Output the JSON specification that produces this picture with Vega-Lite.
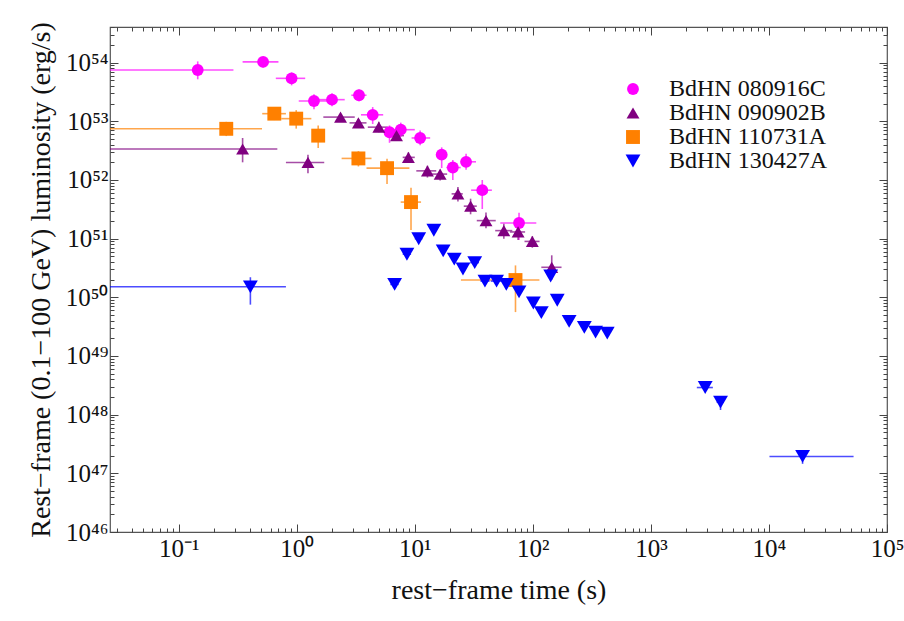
{
  "$schema": "https://vega.github.io/schema/vega-lite/v6.json",
  "width": 777,
  "height": 505,
  "autosize": {"type": "none"},
  "padding": {"left": 110, "top": 27, "right": 17, "bottom": 89},
  "background": "white",
  "config": {
    "view": {"stroke": "#555555", "strokeWidth": 1.2},
    "font": "Liberation Serif",
    "axis": {"labelFont": "Liberation Serif", "titleFont": "Liberation Serif", "labelColor": "#111111", "titleColor": "#111111", "titleFontWeight": "normal", "domain": false, "grid": false, "tickColor": "#444444", "tickWidth": 1},
    "legend": {"labelFont": "Liberation Serif"}
  },
  "resolve": {"legend": {"color": "independent", "shape": "independent", "size": "independent"}},
  "data": {"values": [
    {"s": "BdHN 080916C", "x": 0.145, "xlo": 0.001, "xhi": 0.291, "y": 7.5e53, "ylo": 5.2e53, "yhi": 1.05e54},
    {"s": "BdHN 080916C", "x": 0.519, "xlo": 0.348, "xhi": 0.70, "y": 1.03e54, "ylo": 8.3e53, "yhi": 1.25e54},
    {"s": "BdHN 080916C", "x": 0.905, "xlo": 0.665, "xhi": 1.18, "y": 5.4e53, "ylo": 4.1e53, "yhi": 6.8e53},
    {"s": "BdHN 080916C", "x": 1.40, "xlo": 1.04, "xhi": 1.99, "y": 2.22e53, "ylo": 1.6e53, "yhi": 2.9e53},
    {"s": "BdHN 080916C", "x": 1.99, "xlo": 1.40, "xhi": 2.55, "y": 2.34e53, "ylo": 1.8e53, "yhi": 3.0e53},
    {"s": "BdHN 080916C", "x": 3.37, "xlo": 2.9, "xhi": 3.9, "y": 2.78e53, "ylo": 2.2e53, "yhi": 3.5e53},
    {"s": "BdHN 080916C", "x": 4.40, "xlo": 3.5, "xhi": 5.4, "y": 1.29e53, "ylo": 9.0e52, "yhi": 1.75e53},
    {"s": "BdHN 080916C", "x": 6.11, "xlo": 5.4, "xhi": 7.0, "y": 6.5e52, "ylo": 4.3e52, "yhi": 8.5e52},
    {"s": "BdHN 080916C", "x": 7.61, "xlo": 5.6, "xhi": 10.0, "y": 7.2e52, "ylo": 5.4e52, "yhi": 9.5e52},
    {"s": "BdHN 080916C", "x": 11.1, "xlo": 9.4, "xhi": 13.5, "y": 5.2e52, "ylo": 3.9e52, "yhi": 7.0e52},
    {"s": "BdHN 080916C", "x": 16.9, "xlo": 15.1, "xhi": 18.8, "y": 2.7e52, "ylo": 1.6e52, "yhi": 3.6e52},
    {"s": "BdHN 080916C", "x": 21.0, "xlo": 18.5, "xhi": 24.5, "y": 1.63e52, "ylo": 1.0e52, "yhi": 2.2e52},
    {"s": "BdHN 080916C", "x": 27.2, "xlo": 24.5, "xhi": 33, "y": 2.04e52, "ylo": 1.5e52, "yhi": 2.8e52},
    {"s": "BdHN 080916C", "x": 37.3, "xlo": 30, "xhi": 45, "y": 6.7e51, "ylo": 3.2e51, "yhi": 1.0e52},
    {"s": "BdHN 080916C", "x": 76.4, "xlo": 53, "xhi": 107, "y": 1.85e51, "ylo": 9.5e50, "yhi": 2.75e51},
    {"s": "BdHN 090902B", "x": 0.348, "xlo": 0.001, "xhi": 0.685, "y": 3.37e52, "ylo": 2.0e52, "yhi": 5.2e52},
    {"s": "BdHN 090902B", "x": 1.245, "xlo": 0.81, "xhi": 1.71, "y": 1.99e52, "ylo": 1.3e52, "yhi": 2.7e52},
    {"s": "BdHN 090902B", "x": 2.35, "xlo": 1.68, "xhi": 3.1, "y": 1.18e53, "ylo": 9.8e52, "yhi": 1.35e53},
    {"s": "BdHN 090902B", "x": 3.33, "xlo": 2.8, "xhi": 3.9, "y": 9.4e52, "ylo": 7.8e52, "yhi": 1.1e53},
    {"s": "BdHN 090902B", "x": 4.96, "xlo": 4.0, "xhi": 5.9, "y": 7.95e52, "ylo": 6.5e52, "yhi": 9.8e52},
    {"s": "BdHN 090902B", "x": 7.0, "xlo": 6.1, "xhi": 8.1, "y": 5.7e52, "ylo": 4.7e52, "yhi": 6.8e52},
    {"s": "BdHN 090902B", "x": 8.83, "xlo": 7.9, "xhi": 10.0, "y": 2.43e52, "ylo": 1.95e52, "yhi": 2.95e52},
    {"s": "BdHN 090902B", "x": 12.8, "xlo": 10.3, "xhi": 15.2, "y": 1.43e52, "ylo": 1.1e52, "yhi": 1.75e52},
    {"s": "BdHN 090902B", "x": 16.4, "xlo": 14.0, "xhi": 18.8, "y": 1.26e52, "ylo": 9.8e51, "yhi": 1.5e52},
    {"s": "BdHN 090902B", "x": 23.2, "xlo": 20.5, "xhi": 25.5, "y": 5.8e51, "ylo": 4.3e51, "yhi": 7.6e51},
    {"s": "BdHN 090902B", "x": 29.7, "xlo": 26, "xhi": 33.5, "y": 3.58e51, "ylo": 2.6e51, "yhi": 4.8e51},
    {"s": "BdHN 090902B", "x": 40.1, "xlo": 33.5, "xhi": 48.5, "y": 2.03e51, "ylo": 1.5e51, "yhi": 2.8e51},
    {"s": "BdHN 090902B", "x": 56.8, "xlo": 48, "xhi": 67, "y": 1.37e51, "ylo": 1.0e51, "yhi": 1.8e51},
    {"s": "BdHN 090902B", "x": 75, "xlo": 64, "xhi": 86, "y": 1.3e51, "ylo": 9.5e50, "yhi": 1.7e51},
    {"s": "BdHN 090902B", "x": 99, "xlo": 85, "xhi": 114, "y": 8.97e50, "ylo": 7.0e50, "yhi": 1.1e51},
    {"s": "BdHN 090902B", "x": 144.6, "xlo": 118, "xhi": 175, "y": 3.25e50, "ylo": 2.0e50, "yhi": 5.2e50},
    {"s": "BdHN 110731A", "x": 0.253, "xlo": 0.001, "xhi": 0.508, "y": 7.45e52, "ylo": 5.6e52, "yhi": 9.8e52},
    {"s": "BdHN 110731A", "x": 0.646, "xlo": 0.51, "xhi": 0.81, "y": 1.35e53, "ylo": 1.05e53, "yhi": 1.75e53},
    {"s": "BdHN 110731A", "x": 0.99, "xlo": 0.74, "xhi": 1.33, "y": 1.11e53, "ylo": 7.5e52, "yhi": 1.55e53},
    {"s": "BdHN 110731A", "x": 1.52, "xlo": 1.35, "xhi": 1.66, "y": 5.7e52, "ylo": 3.5e52, "yhi": 8.5e52},
    {"s": "BdHN 110731A", "x": 3.33, "xlo": 2.4, "xhi": 4.3, "y": 2.33e52, "ylo": 1.7e52, "yhi": 3.1e52},
    {"s": "BdHN 110731A", "x": 5.82, "xlo": 3.9, "xhi": 9.0, "y": 1.59e52, "ylo": 8.5e51, "yhi": 2.3e52},
    {"s": "BdHN 110731A", "x": 9.29, "xlo": 7.6, "xhi": 11.3, "y": 4.2e51, "ylo": 1.4e51, "yhi": 7.4e51},
    {"s": "BdHN 110731A", "x": 71.3, "xlo": 24.6, "xhi": 113.7, "y": 1.97e50, "ylo": 5.6e49, "yhi": 3.5e50},
    {"s": "BdHN 130427A", "x": 0.405, "xlo": 0.001, "xhi": 0.81, "y": 1.51e50, "ylo": 7.5e49, "yhi": 2.2e50},
    {"s": "BdHN 130427A", "x": 6.75, "xlo": 6.2, "xhi": 7.3, "y": 1.66e50, "ylo": 1.55e50, "yhi": 1.78e50},
    {"s": "BdHN 130427A", "x": 8.58, "xlo": 7.9, "xhi": 9.3, "y": 5.43e50, "ylo": 4.6e50, "yhi": 6.5e50},
    {"s": "BdHN 130427A", "x": 10.8, "xlo": 10.0, "xhi": 11.6, "y": 9.97e50, "ylo": 9.2e50, "yhi": 1.08e51},
    {"s": "BdHN 130427A", "x": 14.5, "xlo": 14.5, "xhi": 14.5, "y": 1.39e51, "ylo": 1.39e51, "yhi": 1.39e51},
    {"s": "BdHN 130427A", "x": 17.4, "xlo": 17.4, "xhi": 17.4, "y": 6.2e50, "ylo": 6.2e50, "yhi": 6.2e50},
    {"s": "BdHN 130427A", "x": 21.6, "xlo": 21.6, "xhi": 21.6, "y": 4.47e50, "ylo": 4.47e50, "yhi": 4.47e50},
    {"s": "BdHN 130427A", "x": 25.6, "xlo": 24.5, "xhi": 26.7, "y": 3.04e50, "ylo": 2.5e50, "yhi": 3.6e50},
    {"s": "BdHN 130427A", "x": 32.2, "xlo": 29.5, "xhi": 35, "y": 3.91e50, "ylo": 3.6e50, "yhi": 4.2e50},
    {"s": "BdHN 130427A", "x": 39.3, "xlo": 36, "xhi": 43, "y": 1.89e50, "ylo": 1.89e50, "yhi": 1.89e50},
    {"s": "BdHN 130427A", "x": 49.3, "xlo": 44, "xhi": 54, "y": 1.89e50, "ylo": 1.89e50, "yhi": 1.89e50},
    {"s": "BdHN 130427A", "x": 59.6, "xlo": 59.6, "xhi": 59.6, "y": 1.66e50, "ylo": 1.66e50, "yhi": 1.66e50},
    {"s": "BdHN 130427A", "x": 76.4, "xlo": 76.4, "xhi": 76.4, "y": 1.24e50, "ylo": 1.24e50, "yhi": 1.24e50},
    {"s": "BdHN 130427A", "x": 101, "xlo": 101, "xhi": 101, "y": 8.0e49, "ylo": 8.0e49, "yhi": 8.0e49},
    {"s": "BdHN 130427A", "x": 118, "xlo": 118, "xhi": 118, "y": 5.48e49, "ylo": 5.48e49, "yhi": 5.48e49},
    {"s": "BdHN 130427A", "x": 141.6, "xlo": 141.6, "xhi": 141.6, "y": 2.31e50, "ylo": 2.31e50, "yhi": 2.31e50},
    {"s": "BdHN 130427A", "x": 161, "xlo": 161, "xhi": 161, "y": 8.9e49, "ylo": 8.9e49, "yhi": 8.9e49},
    {"s": "BdHN 130427A", "x": 203, "xlo": 203, "xhi": 203, "y": 3.89e49, "ylo": 3.89e49, "yhi": 3.89e49},
    {"s": "BdHN 130427A", "x": 273, "xlo": 273, "xhi": 273, "y": 3.07e49, "ylo": 3.07e49, "yhi": 3.07e49},
    {"s": "BdHN 130427A", "x": 340, "xlo": 340, "xhi": 340, "y": 2.55e49, "ylo": 2.55e49, "yhi": 2.55e49},
    {"s": "BdHN 130427A", "x": 427, "xlo": 427, "xhi": 427, "y": 2.45e49, "ylo": 2.45e49, "yhi": 2.45e49},
    {"s": "BdHN 130427A", "x": 2884, "xlo": 2450, "xhi": 3350, "y": 2.9e48, "ylo": 2.6e48, "yhi": 3.2e48},
    {"s": "BdHN 130427A", "x": 3890, "xlo": 3600, "xhi": 4150, "y": 1.64e48, "ylo": 1.2e48, "yhi": 2.0e48},
    {"s": "BdHN 130427A", "x": 19270, "xlo": 10100, "xhi": 52100, "y": 1.94e47, "ylo": 1.45e47, "yhi": 2.4e47}
  ]},
  "layer": [
    {
      "mark": {"type": "rule", "strokeWidth": 1.6, "opacity": 0.7, "clip": true},
      "encoding": {
        "x": {"field": "xlo", "type": "quantitative", "scale": {"type": "log", "domain": [0.0262, 100000], "nice": false},
          "axis": {"orient": "top", "title": null, "labels": false,
            "values": [0.03,0.04,0.05,0.06,0.07,0.08,0.09,0.1,0.2,0.3,0.4,0.5,0.6,0.7,0.8,0.9,1,2,3,4,5,6,7,8,9,10,20,30,40,50,60,70,80,90,100,200,300,400,500,600,700,800,900,1000,2000,3000,4000,5000,6000,7000,8000,9000,10000,20000,30000,40000,50000,60000,70000,80000,90000,100000],
            "tickSize": {"condition": {"test": "abs(log(datum.value)/LN10 - round(log(datum.value)/LN10)) < 0.001", "value": -8}, "value": -4}}},
        "x2": {"field": "xhi"},
        "y": {"field": "y", "type": "quantitative", "scale": {"type": "log", "domain": [1e46, 4.05e54], "nice": false}, "axis": null},
        "color": {"field": "s", "type": "nominal", "scale": {"domain": ["BdHN 080916C", "BdHN 090902B", "BdHN 110731A", "BdHN 130427A"], "range": ["#FF00FF", "#800080", "#FF8000", "#0000FF"]}, "legend": null}
      }
    },
    {
      "mark": {"type": "rule", "strokeWidth": 1.6, "opacity": 0.7, "clip": true},
      "encoding": {
        "x": {"field": "x", "type": "quantitative", "scale": {"type": "log", "domain": [0.0262, 100000], "nice": false}, "axis": null},
        "y": {"field": "ylo", "type": "quantitative", "scale": {"type": "log", "domain": [1e46, 4.05e54], "nice": false},
          "axis": {"orient": "right", "title": null, "labels": false,
            "values": [1e46,2e46,3e46,4e46,5e46,6e46,7e46,8e46,9e46,1e47,2e47,3e47,4e47,5e47,6e47,7e47,8e47,9e47,1e48,2e48,3e48,4e48,5e48,6e48,7e48,8e48,9e48,1e49,2e49,3e49,4e49,5e49,6e49,7e49,8e49,9e49,1e50,2e50,3e50,4e50,5e50,6e50,7e50,8e50,9e50,1e51,2e51,3e51,4e51,5e51,6e51,7e51,8e51,9e51,1e52,2e52,3e52,4e52,5e52,6e52,7e52,8e52,9e52,1e53,2e53,3e53,4e53,5e53,6e53,7e53,8e53,9e53,1e54,2e54,3e54,4e54],
            "tickSize": {"condition": {"test": "abs(log(datum.value)/LN10 - round(log(datum.value)/LN10)) < 0.001", "value": -8}, "value": -4}}},
        "y2": {"field": "yhi"},
        "color": {"field": "s", "type": "nominal", "scale": {"domain": ["BdHN 080916C", "BdHN 090902B", "BdHN 110731A", "BdHN 130427A"], "range": ["#FF00FF", "#800080", "#FF8000", "#0000FF"]}, "legend": null}
      }
    },
    {
      "mark": {"type": "point", "filled": true, "opacity": 1, "clip": true},
      "encoding": {
        "x": {"field": "x", "type": "quantitative", "scale": {"type": "log", "domain": [0.0262, 100000], "nice": false},
          "axis": {"orient": "bottom", "title": "rest−frame time (s)", "titleFontSize": 28, "titlePadding": 11, "labelFontSize": 25, "labelPadding": 12,
            "values": [0.03,0.04,0.05,0.06,0.07,0.08,0.09,0.1,0.2,0.3,0.4,0.5,0.6,0.7,0.8,0.9,1,2,3,4,5,6,7,8,9,10,20,30,40,50,60,70,80,90,100,200,300,400,500,600,700,800,900,1000,2000,3000,4000,5000,6000,7000,8000,9000,10000,20000,30000,40000,50000,60000,70000,80000,90000,100000],
            "labelExpr": "abs(log(datum.value)/LN10 - round(log(datum.value)/LN10)) < 0.001 ? '10' + ['⁻¹','⁰','¹','²','³','⁴','⁵'][round(log(datum.value)/LN10)+1] : ''",
            "labelOverlap": false, "labelFlush": false,
            "tickSize": {"condition": {"test": "abs(log(datum.value)/LN10 - round(log(datum.value)/LN10)) < 0.001", "value": -8}, "value": -4}}},
        "y": {"field": "y", "type": "quantitative", "scale": {"type": "log", "domain": [1e46, 4.05e54], "nice": false},
          "axis": {"orient": "left", "title": "Rest−frame (0.1−100 GeV) luminosity (erg/s)", "titleFontSize": 28, "titlePadding": 10, "labelFontSize": 25, "labelPadding": 10,
            "values": [1e46,2e46,3e46,4e46,5e46,6e46,7e46,8e46,9e46,1e47,2e47,3e47,4e47,5e47,6e47,7e47,8e47,9e47,1e48,2e48,3e48,4e48,5e48,6e48,7e48,8e48,9e48,1e49,2e49,3e49,4e49,5e49,6e49,7e49,8e49,9e49,1e50,2e50,3e50,4e50,5e50,6e50,7e50,8e50,9e50,1e51,2e51,3e51,4e51,5e51,6e51,7e51,8e51,9e51,1e52,2e52,3e52,4e52,5e52,6e52,7e52,8e52,9e52,1e53,2e53,3e53,4e53,5e53,6e53,7e53,8e53,9e53,1e54,2e54,3e54,4e54],
            "labelExpr": "abs(log(datum.value)/LN10 - round(log(datum.value)/LN10)) < 0.001 ? '10' + ['⁴⁶','⁴⁷','⁴⁸','⁴⁹','⁵⁰','⁵¹','⁵²','⁵³','⁵⁴'][round(log(datum.value)/LN10)-46] : ''",
            "labelOverlap": false, "labelFlush": false,
            "tickSize": {"condition": {"test": "abs(log(datum.value)/LN10 - round(log(datum.value)/LN10)) < 0.001", "value": -8}, "value": -4}}},
        "color": {"field": "s", "type": "nominal", "scale": {"domain": ["BdHN 080916C", "BdHN 090902B", "BdHN 110731A", "BdHN 130427A"], "range": ["#FF00FF", "#800080", "#FF8000", "#0000FF"]},
          "legend": {"title": null, "orient": "none", "legendX": 511, "legendY": 50, "labelFont": "Liberation Serif", "labelFontSize": 24, "labelColor": "#111111", "symbolSize": 200, "rowPadding": 0, "labelOffset": 24, "symbolStrokeWidth": 0}},
        "shape": {"field": "s", "type": "nominal", "scale": {"domain": ["BdHN 080916C", "BdHN 090902B", "BdHN 110731A", "BdHN 130427A"], "range": ["circle", "triangle-up", "square", "triangle-down"]}},
        "size": {"field": "s", "type": "nominal", "scale": {"domain": ["BdHN 080916C", "BdHN 090902B", "BdHN 110731A", "BdHN 130427A"], "range": [140, 220, 120, 220]}, "legend": null}
      }
    }
  ]
}
